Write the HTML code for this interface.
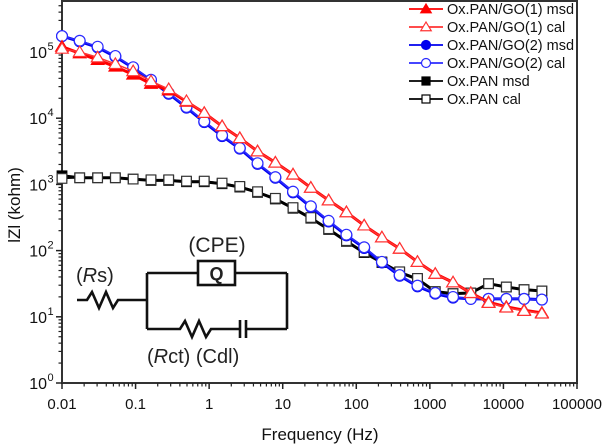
<!DOCTYPE html>
<html><head><meta charset="utf-8"><style>
html,body{margin:0;padding:0;background:#fff;}
svg{display:block;font-family:"Liberation Sans",sans-serif;}
</style></head><body>
<svg id="chart" width="605" height="444" viewBox="0 0 605 444">
<rect width="605" height="444" fill="#fff"/>
<g id="grid"></g>
<g id="series"></g>
<g id="circuit" stroke="#111" stroke-width="2.6" fill="none">
  <polyline points="77,300 87,300 92,292 99,308 106,292 113,308 118,300 147,300"/>
  <line x1="147" y1="273" x2="147" y2="329"/>
  <line x1="147" y1="273" x2="198" y2="273"/>
  <rect x="198" y="261" width="37" height="24"/>
  <line x1="235" y1="273" x2="287" y2="273"/>
  <line x1="287" y1="273" x2="287" y2="329"/>
  <polyline points="147,329 180,329 185,321 192,337 199,321 206,337 211,329 240,329"/>
  <line x1="240" y1="320" x2="240" y2="338"/>
  <line x1="246" y1="320" x2="246" y2="338"/>
  <line x1="246" y1="329" x2="287" y2="329"/>
</g>
<g fill="#222">
  <text x="217" y="252" text-anchor="middle" font-size="21" font-family="Liberation Sans,sans-serif">(CPE)</text>
  <text x="216.5" y="280" text-anchor="middle" font-weight="bold" font-size="18">Q</text>
  <text x="76" y="282" font-family="Liberation Sans,sans-serif" font-size="20">(<tspan font-style="italic">R</tspan>s)</text>
  <text x="147" y="363" font-family="Liberation Sans,sans-serif" font-size="20">(<tspan font-style="italic">R</tspan>ct) (Cdl)</text>
</g>
<g id="legend"></g>
<text x="320" y="440" text-anchor="middle" font-size="17" fill="#111">Frequency (Hz)</text>
<text transform="translate(20,205) rotate(-90)" text-anchor="middle" font-size="17" fill="#111">lZl (kohm)</text>
</svg>
<script>
// frequencies (Hz)
const freqs = [0.01,0.0174,0.0305,0.0531,0.0927,0.162,0.282,0.492,0.858,1.50,2.61,4.55,7.94,13.8,24.1,42.1,73.4,128,223,389,679,1184,2065,3601,6280,10950,19100,33300];
// log10 |Z| values
const go1Cal = [5.05,5.0,4.92,4.82,4.71,4.56,4.44,4.26,4.08,3.88,3.70,3.5,3.33,3.15,2.95,2.76,2.58,2.38,2.2,2.03,1.83,1.65,1.52,1.36,1.21,1.14,1.09,1.05];
const go1Msd = [5.08,4.98,4.88,4.78,4.66,4.52,4.42,4.25,4.08,3.88,3.70,3.5,3.33,3.15,2.95,2.76,2.58,2.38,2.2,2.03,1.83,1.65,1.52,1.36,1.22,1.15,1.10,1.06];
const go2Cal = [5.24,5.17,5.08,4.94,4.77,4.58,4.38,4.17,3.95,3.74,3.55,3.32,3.11,2.89,2.67,2.45,2.24,2.05,1.83,1.63,1.47,1.36,1.30,1.27,1.27,1.27,1.27,1.26];
const go2Msd = [5.24,5.16,5.07,4.93,4.76,4.57,4.37,4.16,3.94,3.73,3.54,3.31,3.10,2.88,2.66,2.44,2.23,2.04,1.82,1.62,1.46,1.35,1.29,1.27,1.27,1.27,1.27,1.26];
const panCal = [3.09,3.10,3.10,3.10,3.08,3.07,3.07,3.05,3.05,3.02,2.97,2.89,2.79,2.65,2.5,2.33,2.15,1.98,1.83,1.68,1.58,1.38,1.35,1.36,1.5,1.45,1.41,1.39];
const panMsd = [3.13,3.10,3.10,3.10,3.08,3.06,3.06,3.04,3.04,3.01,2.96,2.88,2.78,2.64,2.49,2.32,2.14,1.97,1.82,1.67,1.57,1.38,1.35,1.36,1.5,1.45,1.41,1.39];
const xTickLabels = ["0.01","0.1","1","10","100","1000","10000","100000"];
const yTickExps = [0,1,2,3,4,5];
const legendLabels = ["Ox.PAN/GO(1) msd","Ox.PAN/GO(1) cal","Ox.PAN/GO(2) msd","Ox.PAN/GO(2) cal","Ox.PAN msd","Ox.PAN cal"];

const NS="http://www.w3.org/2000/svg";
const X0=62, X1=577, Y0=383, YTOP=1;
const xLogMin=-2, xLogMax=5, yLogMin=0, yPerDec=66.2;
function xs(f){return X0+(Math.log10(f)-xLogMin)/(xLogMax-xLogMin)*(X1-X0);}
function ys(l){return Y0-(l-yLogMin)*yPerDec;}
function mk(tag,attrs,parent){const e=document.createElementNS(NS,tag);for(const k in attrs)e.setAttribute(k,attrs[k]);parent.appendChild(e);return e;}

const grid=document.getElementById('grid');
let fr=mk('rect',{x:X0,y:YTOP,width:X1-X0,height:Y0-YTOP,fill:'none',stroke:'#333','stroke-width':2},grid);


for(let d=0; d<xTickLabels.length; d++){
  const lg=xLogMin+d; const x=xs(Math.pow(10,lg));
  let t=mk('line',{x1:x,y1:Y0,x2:x,y2:Y0+6,stroke:'#222','stroke-width':1.5},grid);
  
  
  let lb=mk('text',{x:x,y:409,'text-anchor':'middle','font-size':15,fill:'#111'},grid);
  lb.textContent=xTickLabels[d];
  
  
  if(d<xTickLabels.length-1){
    for(let m=2;m<10;m++){
      const xm=xs(m*Math.pow(10,lg));
      let mt=mk('line',{x1:xm,y1:Y0,x2:xm,y2:Y0+3.5,stroke:'#222','stroke-width':1.2},grid);
      
      
    }
  }
}
for(const e of yTickExps){
  const y=ys(e);
  let t=mk('line',{x1:X0-6,y1:y,x2:X0,y2:y,stroke:'#222','stroke-width':1.5},grid);
  
  
  let lb=mk('text',{x:47,y:y+6,'text-anchor':'end','font-size':16,fill:'#111'},grid);
  lb.textContent='10';
  
  
  let sp=mk('text',{x:47.5,y:y-2,'font-size':11,fill:'#111'},grid);
  sp.textContent=String(e);
  
  
  for(let m=2;m<10;m++){
    const ym=ys(e+Math.log10(m));
    if(ym<YTOP) break;
    let mt=mk('line',{x1:X0-3.5,y1:ym,x2:X0,y2:ym,stroke:'#222','stroke-width':1.2},grid);
    
    
  }
}

function marker(g,shape,fill,stroke,x,y,s){
  let e;
  if(shape==='tri') e=mk('polygon',{points:`${x},${y-s} ${x-s*1.05},${y+s*0.75} ${x+s*1.05},${y+s*0.75}`,fill:fill,stroke:stroke,'stroke-width':1.2},g);
  else if(shape==='circ') e=mk('circle',{cx:x,cy:y,r:s*0.9,fill:fill,stroke:stroke,'stroke-width':1.2},g);
  else e=mk('rect',{x:x-s*0.8,y:y-s*0.8,width:s*1.6,height:s*1.6,fill:fill,stroke:stroke,'stroke-width':1.2},g);
  return e;
}
const seriesG=document.getElementById('series');
const defs=[
  {vals:panMsd,color:'#000',shape:'sq',fill:'#000',lw:3,name:'pan-msd'},
  {vals:panCal,color:'#000',shape:'sq',fill:'#fff',mstroke:'#333',lw:1.5,name:'pan-cal'},
  {vals:go2Msd,color:'#0000ee',shape:'circ',fill:'#0000ee',lw:3,name:'go2-msd'},
  {vals:go2Cal,color:'#2b2bff',shape:'circ',fill:'#fff',lw:1.5,name:'go2-cal'},
  {vals:go1Msd,color:'#f00',shape:'tri',fill:'#f00',lw:3,name:'go1-msd'},
  {vals:go1Cal,color:'#f33',shape:'tri',fill:'#fff',lw:1.5,name:'go1-cal'},
];
const s=6;
for(const d of defs){
  const g=mk('g',{},seriesG);
  
  
  const pts=d.vals.map((v,i)=>xs(freqs[i])+','+ys(v)).join(' ');
  let pl=mk('polyline',{points:pts,fill:'none',stroke:d.color,'stroke-width':d.lw,'stroke-linejoin':'round'},g);
  
  
  d.vals.forEach((v,i)=>{
    const m=marker(g,d.shape,d.fill,d.mstroke||d.color,xs(freqs[i]),ys(v),s);
    
    
  });
}
const lg=document.getElementById('legend');
const legStyle=[
  {c:'#f00',sh:'tri',f:'#f00'},{c:'#f33',sh:'tri',f:'#fff'},
  {c:'#0000ee',sh:'circ',f:'#0000ee'},{c:'#2b2bff',sh:'circ',f:'#fff'},
  {c:'#000',sh:'sq',f:'#000'},{c:'#000',sh:'sq',f:'#fff'}];
const legY=[9,27,45,63,81,99];
legendLabels.forEach((lab,i)=>{
  const y=legY[i], st=legStyle[i];
  const g=mk('g',{},lg);
  
  
  mk('line',{x1:409,y1:y,x2:443,y2:y,stroke:st.c,'stroke-width':1.8},g);
  marker(g,st.sh,st.f,st.c,426,y,5);
  const t=mk('text',{x:447,y:y+5,'font-size':14.5,fill:'#111'},g);
  t.textContent=lab;
});
</script>
</body></html>
